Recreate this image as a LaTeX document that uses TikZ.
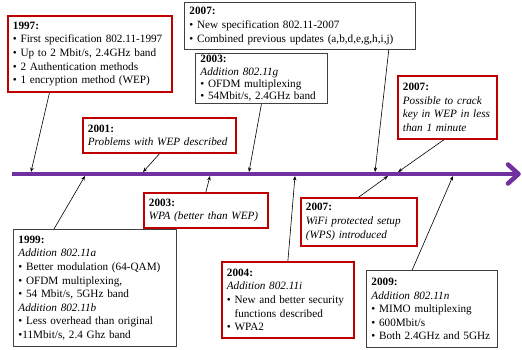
\documentclass[tikz,border=0pt]{standalone}
\usepackage{fontspec}
\setmainfont{Liberation Serif}
\usetikzlibrary{arrows.meta,calc}
\definecolor{evred}{HTML}{C00000}
\definecolor{evgray}{HTML}{404040}
\definecolor{tlpurple}{HTML}{7030A0}
\tikzset{
  evbox/.style={draw, anchor=north west, align=left, inner xsep=5pt, inner ysep=1pt,
    font=\fontsize{11.2}{13.6}\selectfont},
  redbox/.style={evbox, draw=evred, line width=1.8pt},
  graybox/.style={evbox, draw=evgray, line width=0.9pt},
  bx/.style n args={3}{minimum width=#1pt, text width=#2pt, minimum height=#3pt},
  conn/.style={line width=0.6pt, -{Stealth[length=4.5pt,width=3.5pt]}},
  tline/.style={line width=4.5pt, draw=tlpurple}
}
\begin{document}
\begin{tikzpicture}[x=1pt,y=-1pt]
\useasboundingbox (0,0) rectangle (522,349);
% timeline
\coordinate (tstart) at (12,174);
\coordinate (tend) at (516,174);
\draw[tline] (tstart) -- (tend);
\draw[tline, line cap=round, line join=round] (508,164.5) -- (518.5,174) -- (508,183.5);
% timeline points
\coordinate (p1997) at (31,172);
\coordinate (p1999) at (85,176);
\coordinate (p2001) at (143,172);
\coordinate (p2003a) at (210,176);
\coordinate (p2003g) at (249,172);
\coordinate (p2004) at (295,176);
\coordinate (p2007s) at (375,172);
\coordinate (p2007w) at (388,176);
\coordinate (p2007c) at (398,172);
\coordinate (p2009) at (453,176);
% boxes
\node[redbox, bx={164}{154}{76}] (b1997) at (7,15) {\textbf{1997:}\\
\textbullet{} First specification 802.11-1997\\
\textbullet{} Up to 2 Mbit/s, 2.4GHz band\\
\textbullet{} 2 Authentication methods\\
\textbullet{} 1 encryption method (WEP)};
\node[graybox, bx={231}{221}{47}] (b2007s) at (184,2) {\textbf{2007:}\\
\textbullet{} New specification 802.11-2007\\
\textbullet{} Combined previous updates (a,b,d,e,g,h,i,j)};
\node[graybox, bx={132}{122}{50}, font=\fontsize{11.2}{12.4}\selectfont, inner ysep=0pt] (b2003g) at (195,53) {\textbf{2003:}\\
\textit{Addition 802.11g}\\
\textbullet{} OFDM multiplexing\\
\textbullet{} 54Mbit/s, 2.4GHz band};
\node[redbox, bx={153}{143}{35}] (b2001) at (82,117) {\textbf{2001:}\\
\textit{Problems with WEP described}};
\node[redbox, bx={99}{89}{63}] (b2007c) at (397,75) {\textbf{2007:}\\
\textit{Possible to crack}\\
\textit{key in WEP in less}\\
\textit{than 1 minute}};
\node[redbox, bx={124}{114}{35}] (b2003a) at (143,192) {\textbf{2003:}\\
\textit{WPA (better than WEP)}};
\node[redbox, bx={116}{106}{48}] (b2007w) at (300,197) {\textbf{2007:}\\
\textit{WiFi protected setup}\\
\textit{(WPS) introduced}};
\node[graybox, bx={163}{153}{117}] (b1999) at (13,229) {\textbf{1999:}\\
\textit{Addition 802.11a}\\
\textbullet{} Better modulation (64-QAM)\\
\textbullet{} OFDM multiplexing,\\
\textbullet{} 54 Mbit/s, 5GHz band\\
\textit{Addition 802.11b}\\
\textbullet{} Less overhead than original\\
\textbullet11Mbit/s, 2.4 Ghz band};
\node[redbox, bx={132}{122}{76}] (b2004) at (221,261) {\textbf{2004:}\\
\textit{Addition 802.11i}\\
\textbullet{} New and better security\\
\phantom{\textbullet{} }functions described\\
\textbullet{} WPA2};
\node[graybox, bx={131}{121}{77}] (b2009) at (366,270) {\textbf{2009:}\\
\textit{Addition 802.11n}\\
\textbullet{} MIMO multiplexing\\
\textbullet{} 600Mbit/s\\
\textbullet{} Both 2.4GHz and 5GHz};
% connectors
\draw[conn] ($(b1997.south west)!0.256!(b1997.south east)$) -- (p1997);
\draw[conn] ($(b1999.north west)!0.25!(b1999.north east)$) -- (p1999);
\draw[conn] (b2001.south) -- (p2001);
\draw[conn] (b2003a.north) -- (p2003a);
\draw[conn] (b2003g.south) -- (p2003g);
\draw[conn] (b2004.north) -- (p2004);
\draw[conn] ($(b2007s.south west)!0.883!(b2007s.south east)$) -- (p2007s);
\draw[conn] (b2007w.north) -- (p2007w);
\draw[conn] ($(b2007c.south west)!0.465!(b2007c.south east)$) -- (p2007c);
\draw[conn] ($(b2009.north west)!0.35!(b2009.north east)$) -- (p2009);
\end{tikzpicture}
\end{document}
